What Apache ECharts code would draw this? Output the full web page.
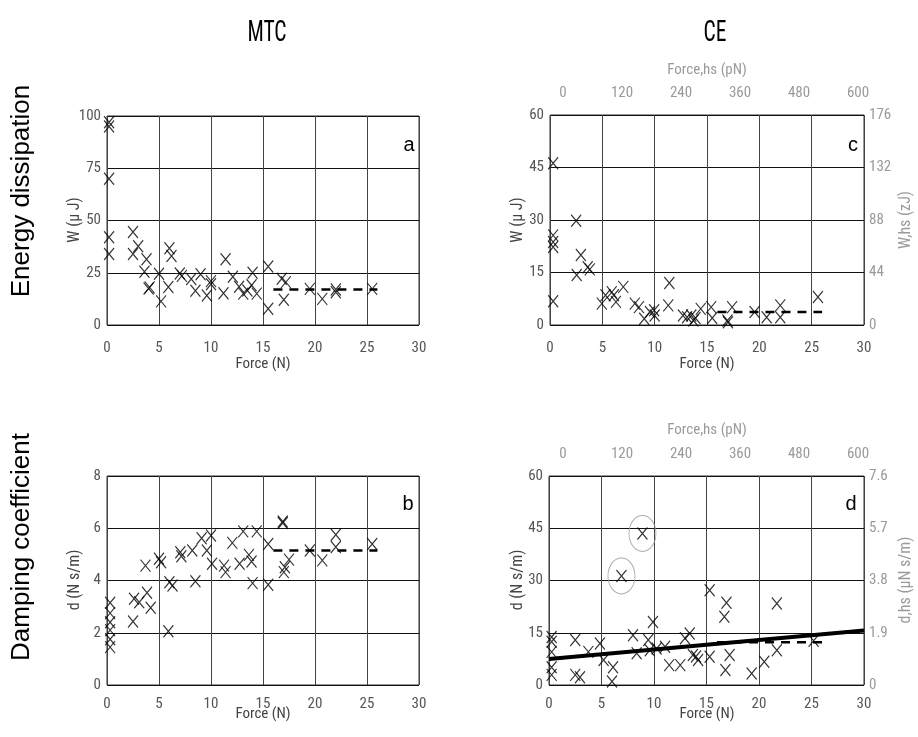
<!DOCTYPE html>
<html><head><meta charset="utf-8">
<script src="https://cdn.jsdelivr.net/npm/echarts@6/dist/echarts.min.js"></script>
<style>html,body{margin:0;padding:0;background:#fff}#c{width:918px;height:737px}</style>
</head><body><div id="c"></div>
<script>
// Panel a: MTC energy dissipation W (uJ) vs Force (N)
const mtcW = [[0.2,97],[0.2,95],[0.2,70],[0.2,42],[0.2,34],[2.5,44.5],[2.5,34],[3,37.7],[3.8,31.5],[3.6,25.5],[4.1,18],[4.0,17.5],[5,24.5],[5.2,11.3],[5.9,18.2],[6.0,36.7],[6.2,33],[7.0,24.6],[7.2,23.5],[8.1,22],[8.5,16.4],[9.0,24.3],[9.6,14.1],[10,21],[10,19.5],[11.2,15.2],[11.4,31.5],[12.1,23.1],[12.7,18.3],[13.1,15],[13.5,16.5],[13.9,19],[14.0,25],[14.4,15],[15.5,28],[15.5,7.8],[16.8,22.1],[17.2,20.5],[17.0,12.1],[19.5,17.3],[20.7,12.5],[22,15.7],[22,17],[25.5,17.3]];
const mtcWMean = [[16,17],[26,17]];
// Panel b: MTC damping coefficient d (N s/m)
const mtcD = [[0.3,3.15],[0.3,2.75],[0.3,2.4],[0.3,2.1],[0.3,1.75],[0.3,1.45],[2.5,2.43],[2.6,3.3],[3.1,3.17],[3.85,3.53],[4.2,2.96],[3.7,4.57],[5.0,4.83],[5.2,4.7],[5.9,2.06],[6.0,3.93],[6.3,3.81],[7.05,5.08],[7.15,4.93],[8.2,5.15],[8.5,3.97],[9.1,5.62],[9.6,5.15],[10.0,5.72],[10.1,4.64],[11.25,4.57],[11.4,4.32],[12.05,5.44],[12.75,4.64],[13.1,5.88],[13.65,4.98],[13.9,4.73],[14.0,3.9],[14.4,5.88],[15.5,5.4],[15.5,3.84],[16.9,6.26],[16.9,6.2],[17.0,4.32],[17.1,4.51],[17.5,4.8],[19.5,5.15],[20.7,4.77],[22.0,5.75],[22.0,5.28],[25.5,5.4]];
const mtcDMean = [[16,5.15],[26,5.15]];
// Panel c: CE energy dissipation
const ceW = [[0.3,46.2],[0.3,25.6],[0.3,23.7],[0.3,22.3],[0.3,6.8],[2.5,29.8],[2.55,14.3],[2.95,20],[3.6,16.5],[3.8,15.9],[4.95,6.1],[5.3,8.5],[5.9,9.4],[6.1,8.5],[6.3,6.6],[7.0,10.9],[8.1,6.1],[8.5,5.1],[9.0,1.8],[9.55,3.7],[9.95,4.2],[10.0,2.7],[11.3,5.6],[11.4,12.0],[12.7,2.7],[13.1,2.2],[13.5,2.7],[13.7,1.3],[13.9,2],[14.4,4.6],[15.4,5.1],[15.5,2],[16.95,1.3],[17.0,0.8],[17.4,5.1],[19.55,3.7],[20.7,2.2],[22,5.6],[22,2.2],[25.6,8.0]];
const ceWMean = [[16,3.7],[26,3.7]];
// Panel d: CE damping coefficient
const ceD = [[0.25,13.8],[0.25,12.4],[0.25,9.5],[0.25,5.1],[0.25,2.9],[2.5,12.9],[2.5,2.9],[2.95,2.2],[3.75,9.5],[4.85,11.9],[5.2,7.2],[6.1,5.1],[6.0,1],[6.9,31.3],[8.0,14.3],[8.35,9.1],[8.9,43.5],[9.45,12.9],[9.6,10],[9.9,18.1],[10.25,10.5],[11.05,11],[11.45,5.7],[12.5,5.7],[12.95,13.4],[13.4,14.8],[13.7,8.6],[14.0,8.2],[14.2,7.2],[15.3,27.2],[15.3,8.1],[16.7,19.6],[16.9,23.6],[16.8,4.3],[17.2,8.6],[19.3,3.3],[20.5,6.7],[21.7,10],[21.7,23.4],[25.2,12.7]];
const ceDMean = [[16,12.3],[26,12.3]];
const ceDFit = [[0,7.45],[30,15.65]];
const ceDOutliers = [[6.9,31.3],[8.9,43.5]];
// tick values
const forceTicks = {min:0, max:30, interval:5};
const hsForceTicks = {min:0, max:600, interval:120};

const NARROW = '"Liberation Sans Narrow","Arial Narrow","Roboto Condensed",Roboto,sans-serif';
const tickGray = '#555', lightGray = '#9a9a9a';
const CROSS = 'path://M0,0L10,12M10,0L0,12';

function xAx(grid, margin){
  return {gridIndex:grid, type:'value', min:forceTicks.min, max:forceTicks.max, interval:forceTicks.interval,
    axisLine:{show:false}, axisTick:{show:false},
    axisLabel:{color:tickGray, fontFamily:NARROW, fontSize:15, margin:margin},
    splitLine:{show:true, lineStyle:{color:'#444', width:1}}};
}
function yAx(grid, max, interval){
  return {gridIndex:grid, type:'value', min:0, max:max, interval:interval,
    axisLine:{show:false}, axisTick:{show:false},
    axisLabel:{color:tickGray, fontFamily:NARROW, fontSize:15, margin:6},
    splitLine:{show:true, lineStyle:{color:'#111', width:1}}};
}
function topAx(grid){
  return {gridIndex:grid, type:'value', position:'top', min:hsForceTicks.min, max:hsForceTicks.max, interval:hsForceTicks.interval,
    axisLine:{show:false}, axisTick:{show:false}, splitLine:{show:false},
    axisLabel:{color:lightGray, fontFamily:NARROW, fontSize:15, margin:14}};
}
function rightAx(grid, max, interval){
  return {gridIndex:grid, type:'value', position:'right', min:0, max:max, interval:interval,
    axisLine:{show:false}, axisTick:{show:false}, splitLine:{show:false},
    axisLabel:{color:lightGray, fontFamily:NARROW, fontSize:15, margin:5,
      formatter:v=> (Math.round(v*10)/10).toString()}};
}
function crosses(xi, yi, data){
  return {type:'scatter', xAxisIndex:xi, yAxisIndex:yi, data:data, symbol:CROSS, symbolSize:[10,12],
    itemStyle:{color:'rgba(0,0,0,0)', borderColor:'#000', borderWidth:1.2}, silent:true, z:5};
}
function dashed(xi, yi, data){
  return {type:'line', xAxisIndex:xi, yAxisIndex:yi, data:data, symbol:'none',
    lineStyle:{color:'#000', width:2.5, type:[9,7]}, silent:true, z:6};
}
function txt(x,y,text,font,fill,rot,sx){
  return {type:'text', x:x, y:y, rotation:rot||0, scaleX:sx||1, silent:true,
    style:{text:text, font:font, fill:fill, align:'center', verticalAlign:'middle'}};
}

const chart = echarts.init(document.getElementById('c'), null, {renderer:'canvas'});
const gridStyle = {show:true, borderColor:'#333', borderWidth:1, backgroundColor:'rgba(0,0,0,0)'};
chart.setOption({
  animation:false,
  backgroundColor:'#fff',
  grid:[
    Object.assign({left:107, top:116, width:312, height:209}, gridStyle),
    Object.assign({left:107, top:476, width:312, height:209}, gridStyle),
    Object.assign({left:550, top:115, width:314, height:210}, gridStyle),
    Object.assign({left:549, top:476, width:315, height:209}, gridStyle),
    {left:563, top:115, width:295, height:210, show:false},
    {left:563, top:476, width:295, height:209, show:false}
  ],
  xAxis:[xAx(0,16), xAx(1,12), xAx(2,16), xAx(3,12), topAx(4), topAx(5)],
  yAxis:[yAx(0,100,25), yAx(1,8,2), yAx(2,60,15), yAx(3,60,15), rightAx(2,176,44), rightAx(3,7.6,1.9),
    {gridIndex:4, show:false, min:0, max:1}, {gridIndex:5, show:false, min:0, max:1}],
  series:[
    crosses(0,0,mtcW), dashed(0,0,mtcWMean),
    crosses(1,1,mtcD), dashed(1,1,mtcDMean),
    crosses(2,2,ceW), dashed(2,2,ceWMean),
    crosses(3,3,ceD), dashed(3,3,ceDMean),
    {type:'line', xAxisIndex:3, yAxisIndex:3, data:ceDFit, symbol:'none', lineStyle:{color:'#000', width:4}, silent:true, z:7},
    {type:'scatter', xAxisIndex:3, yAxisIndex:3, data:ceDOutliers, symbol:'circle', symbolSize:[27,36],
      itemStyle:{color:'rgba(0,0,0,0)', borderColor:'#999', borderWidth:1}, silent:true, z:4}
  ],
  graphic:[
    txt(267,33,'MTC','30px '+NARROW,'#000',0,0.72),
    txt(715,33,'CE','30px '+NARROW,'#000',0,0.72),
    txt(22,191,'Energy dissipation','26px "Liberation Sans",Arial,sans-serif','#000',Math.PI/2),
    txt(22,547,'Damping coefficient','26px "Liberation Sans",Arial,sans-serif','#000',Math.PI/2),
    txt(75,220,'W (\u03bc J)','16px '+NARROW,'#444',Math.PI/2),
    txt(518,220,'W (\u03bc J)','16px '+NARROW,'#444',Math.PI/2),
    txt(75,580,'d (N s/m)','16px '+NARROW,'#444',Math.PI/2),
    txt(518,580,'d (N s/m)','16px '+NARROW,'#444',Math.PI/2),
    txt(906,220,'W,hs (zJ)','16px '+NARROW,lightGray,Math.PI/2),
    txt(906,580,'d,hs (\u03bcN s/m)','16px '+NARROW,lightGray,Math.PI/2),
    txt(263,364,'Force (N)','15px '+NARROW,'#444'),
    txt(707,364,'Force (N)','15px '+NARROW,'#444'),
    txt(263,714,'Force (N)','15px '+NARROW,'#444'),
    txt(707,714,'Force (N)','15px '+NARROW,'#444'),
    txt(707,70,'Force,hs (pN)','15px '+NARROW,lightGray),
    txt(707,430,'Force,hs (pN)','15px '+NARROW,lightGray),
    txt(409,145,'a','20px "Liberation Sans",Arial,sans-serif','#000'),
    txt(408,504,'b','20px "Liberation Sans",Arial,sans-serif','#000'),
    txt(853,145,'c','20px "Liberation Sans",Arial,sans-serif','#000'),
    txt(851,504,'d','20px "Liberation Sans",Arial,sans-serif','#000')
  ]
});
</script></body></html>
